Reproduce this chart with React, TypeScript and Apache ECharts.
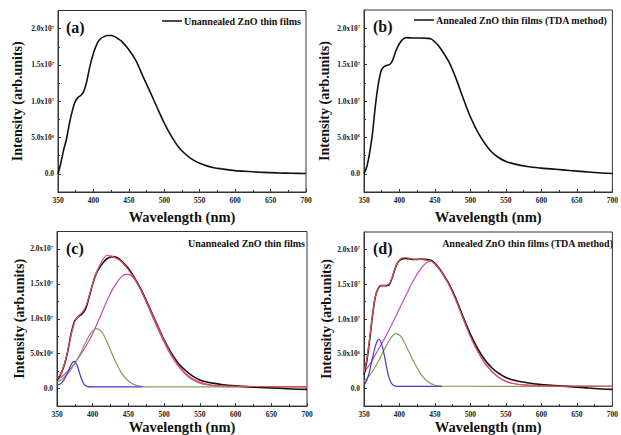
import React, { useEffect, useRef } from 'react';
import * as echarts from 'echarts';

// Intensities in units of 10^6 (arb. units)

// Panel (a): unannealed ZnO thin films, measured PL
const WL_A = [350,354,358,362,366,370,374,378,382,386,390,395,400,405,410,415,420,425,430,435,440,450,460,470,480,490,500,510,520,530,540,550,560,570,580,600,620,640,660,680,700];
const INT_A = [0,1.5,3.3,4.8,6.9,8.6,9.9,10.5,10.8,11.3,12.5,14.8,16.6,17.9,18.6,18.9,19.05,19.05,18.9,18.6,18.25,17.1,15.6,13.4,11.3,9.1,7.0,5.2,3.7,2.7,1.95,1.45,1.1,0.85,0.7,0.45,0.32,0.2,0.13,0.08,0.05];

// Panel (b): annealed ZnO thin films (TDA method), measured PL
const WL_B = [350,354,358,362,366,370,374,378,382,386,390,395,400,405,410,420,430,440,445,450,455,460,470,480,490,500,510,520,530,540,550,560,580,600,620,640,660,680,700];
const INT_B = [0,1.0,2.9,5.6,9.3,12.2,14.1,14.7,14.9,15.0,15.5,16.9,17.9,18.5,18.7,18.65,18.65,18.6,18.5,18.1,17.6,16.9,15.3,13.0,10.3,7.8,5.8,4.2,3.0,2.2,1.7,1.4,1.0,0.78,0.62,0.45,0.3,0.15,0.05];

// Panel (c): unannealed, data + Gaussian fit
const WL_C = [350,355,360,365,370,375,380,385,390,395,400,405,410,415,420,425,430,435,440,450,460,470,480,490,500,510,520,530,540,550,560,570,580,600,620,640,660,680,700];
const DATA_C = [1.2,2.0,3.3,5.3,8.0,9.7,10.3,10.7,11.4,13.1,15.0,16.5,17.4,18.1,18.6,18.85,18.9,18.7,18.3,17.2,15.6,13.7,11.5,9.2,7.0,5.1,3.6,2.6,1.8,1.25,0.95,0.75,0.6,0.4,0.25,0.15,0.05,-0.05,-0.1];
const FIT_C = [1.4,2.1,3.4,5.4,7.8,9.6,10.4,10.9,11.7,13.3,15.1,16.6,17.7,18.6,19.1,19.0,18.8,18.55,18.2,17.0,15.5,13.6,11.4,9.1,6.9,4.9,3.3,2.2,1.4,0.95,0.65,0.48,0.4,0.33,0.31,0.3,0.3,0.3,0.3];
const WL_C_BLUE = [350,355,360,365,369,372,374,376,379,382,385,388,392,400,470];
const C_BLUE = [0.45,0.7,1.3,2.3,3.3,3.8,3.9,3.75,3.1,2.1,1.2,0.6,0.32,0.25,0.25];
const WL_C_OLIVE = [350,360,370,380,390,397,405,412,420,430,440,450,460,470,480,700];
const C_OLIVE = [0.9,1.6,2.8,4.5,6.6,7.9,8.6,8.2,6.7,4.3,2.3,1.1,0.5,0.3,0.25,0.25];
const WL_C_MAG = [350,360,370,380,390,400,410,420,430,440,447,455,465,475,485,495,505,515,525,535,545,555,570,600,700];
const C_MAG = [1.3,2.0,3.0,4.4,6.0,7.9,10.2,12.6,14.6,16.0,16.4,16.1,14.6,12.4,10.0,7.7,5.6,3.9,2.6,1.6,1.0,0.65,0.4,0.28,0.25];

// Panel (d): annealed (TDA), data + Gaussian fit
const WL_D = [350,354,358,362,366,370,374,378,382,386,390,395,400,405,410,420,430,440,445,450,455,460,470,480,490,500,510,520,530,540,550,560,580,600,620,640,660,680,700];
const DATA_D = [2.0,4.0,7.0,10.5,13.2,14.4,14.8,14.8,14.8,15.0,16.0,17.6,18.4,18.65,18.7,18.55,18.6,18.55,18.4,18.0,17.4,16.7,15.0,12.8,10.2,7.8,5.8,4.2,3.0,2.2,1.6,1.25,0.85,0.6,0.45,0.3,0.15,0.0,-0.1];
const FIT_D = [2.3,4.3,7.3,10.6,13.2,14.4,14.8,14.8,14.85,15.1,16.1,17.6,18.5,18.8,18.8,18.6,18.55,18.4,18.3,17.9,17.3,16.6,14.9,12.6,10.0,7.5,5.4,3.7,2.5,1.6,1.05,0.75,0.5,0.4,0.37,0.35,0.35,0.35,0.35];
const WL_D_BLUE = [350,354,358,362,366,369,371,373,376,379,382,385,388,392,398,460];
const D_BLUE = [0.5,1.2,2.6,4.4,6.1,6.9,7.1,6.9,6.0,4.6,3.0,1.7,0.9,0.45,0.33,0.33];
const WL_D_OLIVE = [350,360,370,380,388,395,402,410,420,430,440,450,460,700];
const D_OLIVE = [1.0,2.2,3.9,5.9,7.3,7.9,7.5,6.0,3.9,2.1,1.0,0.5,0.35,0.33];
const WL_D_MAG = [350,360,370,380,390,400,410,420,430,437,444,450,455,460,470,480,490,500,510,520,530,540,550,560,580,600,700];
const D_MAG = [2.3,3.8,5.6,7.4,9.4,11.5,13.6,15.6,17.2,18.0,18.3,17.9,17.3,16.6,14.9,12.6,10.0,7.5,5.4,3.7,2.5,1.6,1.05,0.75,0.5,0.4,0.33];

const Y_MAJOR = [0, 5, 10, 15, 20];
const Y_MINOR = [2.5, 7.5, 12.5, 17.5];
const LABEL_A = 'Unannealed ZnO thin films';
const LABEL_B = 'Annealed ZnO thin films (TDA method)';

const FONT = '"Liberation Serif", "Times New Roman", serif';
const AX = '#333';

const pairs = (xs: number[], ys: number[]) => xs.map((x, i) => [x, ys[i]]);

function yLabel(v: number) {
  if (Math.abs(v) < 1e-9) return '{m|0.0}';
  const raw = v * 1e6;
  const exp = Math.floor(Math.log10(raw) + 1e-9);
  const mant = raw / Math.pow(10, exp);
  return `{m|${mant.toFixed(1)}x10}{e|${exp}}`;
}

const GRIDS = [
  { left: 58, top: 10.5, width: 248, height: 181.5 },
  { left: 364, top: 10, width: 249, height: 182 },
  { left: 57, top: 231.5, width: 250, height: 175 },
  { left: 364, top: 232, width: 253, height: 175 },
];
const X_NAME_GAP = [17, 17, 10, 10];
const Y_NAME_GAP = [34, 33, 30, 30];

export default function App() {
  const ref = useRef<HTMLDivElement>(null);
  useEffect(() => {
    if (!ref.current) return;
    const chart = echarts.init(ref.current, undefined, { renderer: 'svg' });

    const grid = GRIDS.map((g) => ({
      ...g,
      show: true,
      borderColor: AX,
      borderWidth: 1,
      backgroundColor: 'transparent',
      containLabel: false,
    }));

    const xAxis = GRIDS.map((_, i) => ({
      gridIndex: i,
      type: 'value',
      min: 350,
      max: 700,
      interval: 50,
      axisLine: { show: true, onZero: false, lineStyle: { color: AX, width: 1 } },
      axisTick: { show: true, inside: true, length: 3, lineStyle: { color: AX } },
      minorTick: { show: true, splitNumber: 2, length: 2, lineStyle: { color: AX } },
      axisLabel: { fontSize: 7.5, fontWeight: 'bold', fontFamily: FONT, color: '#222', margin: 4 },
      splitLine: { show: false },
      minorSplitLine: { show: false },
      name: 'Wavelength (nm)',
      nameLocation: 'middle',
      nameGap: X_NAME_GAP[i],
      nameTextStyle: { fontSize: 14.5, fontWeight: 'bold', fontFamily: FONT, color: '#111' },
    }));

    const yMain = GRIDS.map((_, i) => ({
      gridIndex: i,
      type: 'value',
      position: 'left',
      min: -2.5,
      max: 22.5,
      interval: 2.5,
      axisLine: { show: true, onZero: false, lineStyle: { color: AX, width: 1 } },
      axisTick: { show: true, inside: true, length: 3, customValues: Y_MAJOR, lineStyle: { color: AX } },
      axisLabel: {
        customValues: Y_MAJOR,
        formatter: yLabel,
        margin: 4,
        rich: {
          m: { fontSize: 7.5, fontWeight: 'bold', fontFamily: FONT, color: '#222' },
          e: { fontSize: 4.5, fontWeight: 'bold', fontFamily: FONT, color: '#222', verticalAlign: 'top' },
        },
      },
      splitLine: { show: false },
      name: 'Intensity (arb.units)',
      nameLocation: 'middle',
      nameGap: Y_NAME_GAP[i],
      nameTextStyle: { fontSize: 14, fontWeight: 'bold', fontFamily: FONT, color: '#111' },
    }));

    const yMinor = GRIDS.map((_, i) => ({
      gridIndex: i,
      type: 'value',
      position: 'left',
      min: -2.5,
      max: 22.5,
      interval: 2.5,
      axisLine: { show: false },
      axisTick: { show: true, inside: true, length: 2, customValues: Y_MINOR, lineStyle: { color: AX } },
      axisLabel: { show: false },
      splitLine: { show: false },
    }));

    const line = (xi: number, data: number[][], color: string, width: number, name: string) => ({
      type: 'line',
      name,
      xAxisIndex: xi,
      yAxisIndex: xi,
      data,
      showSymbol: false,
      smooth: 0.3,
      lineStyle: { color, width },
      itemStyle: { color },
    });

    const BLACK = '#111111';
    const RED = '#e0505a';
    const BLUE = '#3f3fc8';
    const OLIVE = '#8f9a58';
    const MAG = '#c64ac6';

    const series = [
      line(0, pairs(WL_A, INT_A), BLACK, 1.6, LABEL_A),
      line(1, pairs(WL_B, INT_B), BLACK, 1.6, LABEL_B),
      line(2, pairs(WL_C_MAG, C_MAG), MAG, 1.2, 'Peak 3 (c)'),
      line(2, pairs(WL_C_OLIVE, C_OLIVE), OLIVE, 1.2, 'Peak 2 (c)'),
      line(2, pairs(WL_C_BLUE, C_BLUE), BLUE, 1.2, 'Peak 1 (c)'),
      line(2, pairs(WL_C, DATA_C), BLACK, 1.6, 'Data (c)'),
      line(2, pairs(WL_C, FIT_C), RED, 1.2, 'Fit (c)'),
      line(3, pairs(WL_D_MAG, D_MAG), MAG, 1.2, 'Peak 3 (d)'),
      line(3, pairs(WL_D_OLIVE, D_OLIVE), OLIVE, 1.2, 'Peak 2 (d)'),
      line(3, pairs(WL_D_BLUE, D_BLUE), BLUE, 1.2, 'Peak 1 (d)'),
      line(3, pairs(WL_D, DATA_D), BLACK, 1.6, 'Data (d)'),
      line(3, pairs(WL_D, FIT_D), RED, 1.2, 'Fit (d)'),
    ];

    const panelFont = `bold 16px ${FONT}`;
    const legFont = `bold 10px ${FONT}`;
    const txt = (x: number, y: number, text: string, font: string, align = 'left') => ({
      type: 'text',
      x,
      y,
      silent: true,
      style: { text, font, fill: '#111', align, verticalAlign: 'middle' },
    });

    const graphic = [
      txt(66, 27, '(a)', panelFont),
      txt(373, 26, '(b)', panelFont),
      txt(66, 248, '(c)', panelFont),
      txt(373, 248, '(d)', panelFont),
      { type: 'line', silent: true, shape: { x1: 162, y1: 21, x2: 182, y2: 21 }, style: { stroke: BLACK, lineWidth: 1.5 } },
      txt(184, 21, LABEL_A, legFont),
      { type: 'line', silent: true, shape: { x1: 414, y1: 20, x2: 434, y2: 20 }, style: { stroke: BLACK, lineWidth: 1.5 } },
      txt(436, 20, LABEL_B, legFont),
      txt(305, 243, LABEL_A, legFont, 'right'),
      txt(613, 243, LABEL_B, legFont, 'right'),
    ];

    chart.setOption({
      animation: false,
      backgroundColor: '#ffffff',
      grid,
      xAxis,
      yAxis: [...yMain, ...yMinor],
      series,
      graphic,
    });

    return () => chart.dispose();
  }, []);

  return (
    <div
      ref={ref}
      style={{ position: 'absolute', left: 0, top: 0, width: 621, height: 435, background: '#fff' }}
    />
  );
}
